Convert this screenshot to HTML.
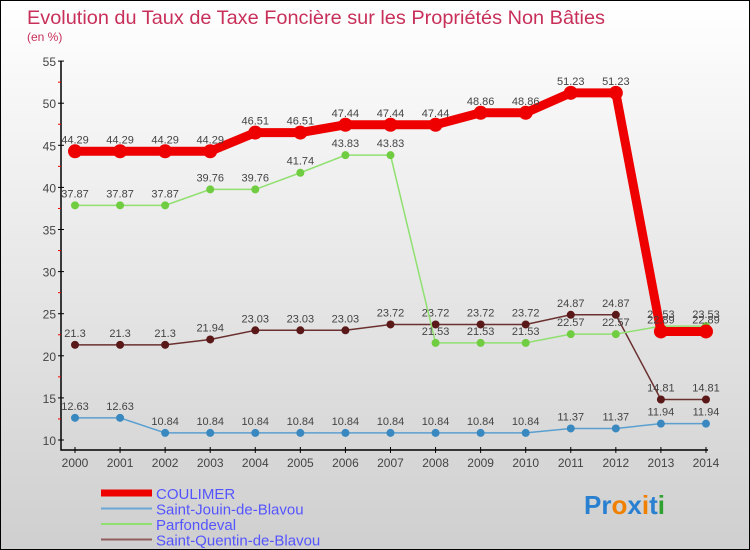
<!DOCTYPE html>
<html><head><meta charset="utf-8"><style>
body{margin:0;}
#wrap{position:relative;width:748px;height:548px;border:1px solid #000;background:linear-gradient(#ffffff,#cfcfcf);font-family:"Liberation Sans",sans-serif;overflow:hidden}
</style></head><body>
<div id="wrap">
<svg id="svg" width="748" height="548"></svg>
</div>
<script>
const years=["2000","2001","2002","2003","2004","2005","2006","2007","2008","2009","2010","2011","2012","2013","2014"];
const coulimer=[44.29,44.29,44.29,44.29,46.51,46.51,47.44,47.44,47.44,48.86,48.86,51.23,51.23,22.89,22.89];
const saintJouin=[12.63,12.63,10.84,10.84,10.84,10.84,10.84,10.84,10.84,10.84,10.84,11.37,11.37,11.94,11.94];
const parfondeval=[37.87,37.87,37.87,39.76,39.76,41.74,43.83,43.83,21.53,21.53,21.53,22.57,22.57,23.53,23.53];
const saintQuentin=[21.3,21.3,21.3,21.94,23.03,23.03,23.03,23.72,23.72,23.72,23.72,24.87,24.87,14.81,14.81];
const yTicks=[10,15,20,25,30,35,40,45,50,55];
const NS="http://www.w3.org/2000/svg";
const svg=document.getElementById('svg');
const X=i=>74+i*45.07;
const Y=v=>439-(v-10)*8.42;
function mk(t,a,p){const e=document.createElementNS(NS,t);for(const k in a)e.setAttribute(k,a[k]);(p||svg).appendChild(e);return e;}
let t=mk('text',{x:26,y:23,'font-size':19.5,fill:'#c8305a',textLength:578,lengthAdjust:'spacingAndGlyphs'});t.textContent="Evolution du Taux de Taxe Foncière sur les Propriétés Non Bâties";


t=mk('text',{x:26,y:40,'font-size':12,fill:'#c8305a'});t.textContent="(en %)";


let ax=mk('path',{d:`M60 60V449H707`,stroke:'#000','stroke-width':1.5,fill:'none'});


yTicks.forEach(v=>{mk('line',{x1:57,x2:63,y1:Y(v),y2:Y(v),stroke:'#000'});
 if(v<55)mk('line',{x1:57,x2:60,y1:Y(v+2.5),y2:Y(v+2.5),stroke:'#e00'});
 const l=mk('text',{x:55,y:Y(v)+5,'font-size':12,fill:'#444','text-anchor':'end'});l.textContent=v;
 
 });
years.forEach((y,i)=>{mk('line',{x1:X(i),x2:X(i),y1:446,y2:452,stroke:'#000'});
 const l=mk('text',{x:X(i),y:466,'font-size':12,fill:'#444','text-anchor':'middle'});l.textContent=y;
 
 });
function series(vals,color,dot,w,r,name){
 const g=mk('g',{});
 
 
 mk('polyline',{points:vals.map((v,i)=>X(i)+','+Y(v)).join(' '),fill:'none',stroke:color,'stroke-width':w},g);
 vals.forEach((v,i)=>{const c=mk('circle',{cx:X(i),cy:Y(v),r:r,fill:dot},g);
  
  
  const l=mk('text',{x:X(i),y:Y(v)-8,'font-size':11,fill:'#444','text-anchor':'middle'},g);l.textContent=v;
  
  });
}
series(saintJouin,'#5a9fd0','#3a88c0',1.5,4,'saint-jouin-series');
series(saintQuentin,'#6a3030','#5a1818',1.5,4,'saint-quentin-series');
series(parfondeval,'#90e070','#70cc40',1.5,4,'parfondeval-series');
series(coulimer,'#ee0000','#ee0000',9,7,'coulimer-series');
const leg=[["COULIMER","#ee0000",7],["Saint-Jouin-de-Blavou","#6aa8d8",2],["Parfondeval","#90e070",2],["Saint-Quentin-de-Blavou","#906060",2]];
leg.forEach((d,i)=>{const y=493+i*15.5;const g=mk('g',{});
 
 
 mk('line',{x1:100,x2:151,y1:y-1,y2:y-1,stroke:d[1],'stroke-width':d[2]},g);
 const l=mk('text',{x:155,y:y+5,'font-size':15,fill:'#5555ff'},g);l.textContent=d[0];});
const logo=mk('text',{x:583,y:513,'font-size':26,'font-weight':'bold'});


[["Pr","#2a80d0"],["o","#f08000"],["x","#2a80d0"],["i","#f08000"],["t","#2a80d0"],["i","#30a030"]].forEach(p=>{const s=mk('tspan',{fill:p[1]},logo);s.textContent=p[0];});
</script>
</body></html>
